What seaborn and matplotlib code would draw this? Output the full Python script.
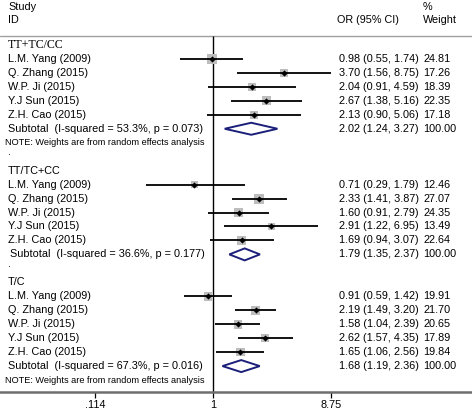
import numpy as np
import pandas as pd
import seaborn as sns
import matplotlib
matplotlib.use("Agg")
import matplotlib.pyplot as plt
from matplotlib.ticker import FixedLocator, FixedFormatter, NullLocator

# ---------------- data ----------------
groups = ["TT+TC/CC", "TT/TC+CC", "T/C"]
studies = ["L.M. Yang (2009)", "Q. Zhang (2015)", "W.P. Ji (2015)",
           "Y.J Sun (2015)", "Z.H. Cao (2015)"]
or_g1 = [0.98, 3.70, 2.04, 2.67, 2.13]
lo_g1 = [0.55, 1.56, 0.91, 1.38, 0.90]
hi_g1 = [1.74, 8.75, 4.59, 5.16, 5.06]
w_g1 = [24.81, 17.26, 18.39, 22.35, 17.18]
or_g2 = [0.71, 2.33, 1.60, 2.91, 1.69]
lo_g2 = [0.29, 1.41, 0.91, 1.22, 0.94]
hi_g2 = [1.79, 3.87, 2.79, 6.95, 3.07]
w_g2 = [12.46, 27.07, 24.35, 13.49, 22.64]
or_g3 = [0.91, 2.19, 1.58, 2.62, 1.65]
lo_g3 = [0.59, 1.49, 1.04, 1.57, 1.06]
hi_g3 = [1.42, 3.20, 2.39, 4.35, 2.56]
w_g3 = [19.91, 21.70, 20.65, 17.89, 19.84]
sub_or = [2.02, 1.79, 1.68]
sub_lo = [1.24, 1.35, 1.19]
sub_hi = [3.27, 2.37, 2.36]
i_squared = [53.3, 36.6, 67.3]
p_het = [0.073, 0.177, 0.016]
show_note = [True, False, True]
tick_vals = [0.114, 1, 8.75]
tick_labels = [".114", "1", "8.75"]

note_text = "NOTE: Weights are from random effects analysis"

# ---------------- layout ----------------
W, H = 472, 411
ROW0, ROWH = 45.0, 13.96        # pixel y of first row, row height
AXIS_PX = 392.0
NULL_PX, PX_PER_LN = 213.0, 54.4


def row_of(px):
    return (px - ROW0) / ROWH


sns.set_theme(style="white")
plt.rcParams["font.family"] = ["Liberation Sans", "DejaVu Sans"]

fig = plt.figure(figsize=(W / 100, H / 100), dpi=100)
ax = fig.add_axes([0, (H - AXIS_PX) / H, 1, AXIS_PX / H])

or_all = [or_g1, or_g2, or_g3]
lo_all = [lo_g1, lo_g2, lo_g3]
hi_all = [hi_g1, hi_g2, hi_g3]
w_all = [w_g1, w_g2, w_g3]

recs = []
labels = []
r = 0
sub_rows = []
for g in range(3):
    labels.append((r, groups[g], "group%d" % g))
    r += 1
    for i, s in enumerate(studies):
        recs.append(dict(y=r, OR=or_all[g][i], lo=lo_all[g][i],
                         hi=hi_all[g][i], w=w_all[g][i], name=s))
        labels.append((r, s, "study"))
        r += 1
    sub_rows.append(r)
    labels.append((r, "Subtotal  (I-squared = %.1f%%, p = %.3f)"
                   % (i_squared[g], p_het[g]), "sub%d" % g))
    r += 1
    if show_note[g]:
        labels.append((r, note_text, "note"))
        r += 1
    if g < 2:
        labels.append((r, ".", "dot"))
        r += 1

df = pd.DataFrame(recs)
wmin, wmax = df["w"].min(), df["w"].max()
k = 1.9

# weight boxes
sns.scatterplot(data=df, x="OR", y="y", size="w",
                sizes=(k * wmin, k * wmax), size_norm=(wmin, wmax),
                marker="s", color="#bdbdbd", linewidth=0, legend=False,
                ax=ax, zorder=2)
# CI lines
ax.hlines(df["y"], df["lo"], df["hi"], color="black", lw=1.3, zorder=3)
# point estimates
sns.scatterplot(data=df, x="OR", y="y", marker="D", s=10, color="black",
                linewidth=0, legend=False, ax=ax, zorder=4)

# subtotal diamonds
hh = 0.43
for g in range(3):
    y = sub_rows[g]
    ax.fill([sub_lo[g], sub_or[g], sub_hi[g], sub_or[g], sub_lo[g]],
            [y, y - hh, y, y + hh, y], facecolor="white",
            edgecolor="#1b1f7a", lw=1.4, zorder=4)

# scale
left_val = np.exp(-NULL_PX / PX_PER_LN)
right_val = np.exp((W - NULL_PX) / PX_PER_LN)
ax.set_xscale("log")
ax.set_xlim(left_val, right_val)
ybot = row_of(AXIS_PX)
ytop = row_of(0)
ax.set_ylim(ybot, ytop)

# header line and null line
hdr = row_of(36)
ax.axhline(hdr, color="#a0a0a0", lw=1.0, zorder=1)
ax.vlines(1, hdr, ybot, color="black", lw=1.0, zorder=1)

# axis styling
for sp in ["left", "right", "top"]:
    ax.spines[sp].set_visible(False)
ax.spines["bottom"].set_color("#6e6e6e")
ax.spines["bottom"].set_linewidth(1.8)
ax.xaxis.set_major_locator(FixedLocator(tick_vals))
ax.xaxis.set_major_formatter(FixedFormatter(tick_labels))
ax.xaxis.set_minor_locator(NullLocator())
ax.yaxis.set_major_locator(NullLocator())
ax.tick_params(axis="x", direction="out", length=4, width=0.9,
               color="black", labelsize=7.8, pad=2, bottom=True,
               labelcolor="black")
ax.set_xlabel("")
ax.set_ylabel("")
ax.grid(False)

trans = ax.get_yaxis_transform()
FS = 7.8


def tx(px, y, s, **kw):
    kw.setdefault("fontsize", FS)
    ax.text(px / W, y, s, transform=trans, va="center", ha="left",
            color="black", **kw)


# headers
tx(8, row_of(7), "Study")
tx(8, row_of(20), "ID")
tx(337, row_of(20), "OR (95% CI)")
tx(423, row_of(7), "%")
tx(423, row_of(20), "Weight")

for (y, s, kind) in labels:
    if kind == "group0":
        tx(8, y, s, family=["Liberation Serif", "DejaVu Serif"], fontsize=8.6)
    elif kind == "note":
        tx(5, y, s, fontsize=6.6)
    elif kind == "sub1":
        tx(10, y, s)
    elif kind == "dot":
        tx(8, y - 0.3, s)
    else:
        tx(8, y, s)

for _, rec in df.iterrows():
    tx(339, rec["y"], "%.2f (%.2f, %.2f)" % (rec["OR"], rec["lo"], rec["hi"]))
    tx(423, rec["y"], "%.2f" % rec["w"])
for g in range(3):
    tx(339, sub_rows[g], "%.2f (%.2f, %.2f)" % (sub_or[g], sub_lo[g], sub_hi[g]))
    tx(423, sub_rows[g], "100.00")

fig.savefig("out.png", dpi=100)
